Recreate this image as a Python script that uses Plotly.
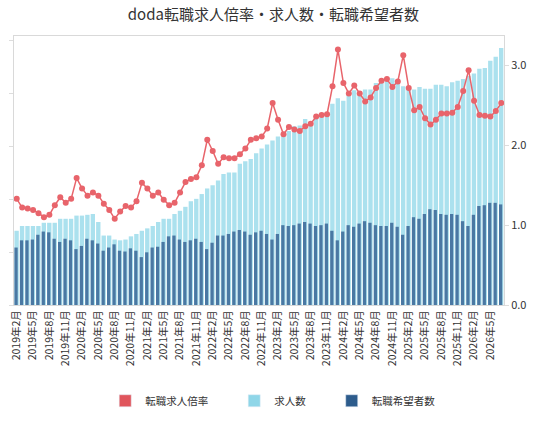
import plotly.graph_objects as go

# months 2019年2月 .. 2026年7月
months = []
y, m = 2019, 2
for _ in range(90):
    months.append(f"{y}年{m}月")
    m += 1
    if m > 12:
        y, m = y + 1, 1

# 転職求人倍率
ratio = [1.33, 1.22, 1.21, 1.19, 1.15, 1.10, 1.13, 1.25, 1.35, 1.28,
         1.33, 1.59, 1.46, 1.37, 1.41, 1.37, 1.27, 1.19, 1.08, 1.17,
         1.24, 1.22, 1.30, 1.53, 1.46, 1.37, 1.41, 1.32, 1.25, 1.28,
         1.41, 1.54, 1.58, 1.60, 1.75, 2.07, 1.93, 1.77, 1.85, 1.84,
         1.84, 1.89, 1.96, 2.07, 2.09, 2.11, 2.21, 2.53, 2.32, 2.14,
         2.23, 2.20, 2.18, 2.24, 2.27, 2.36, 2.38, 2.39, 2.74, 3.20,
         2.78, 2.65, 2.75, 2.65, 2.55, 2.60, 2.72, 2.81, 2.83, 2.73,
         2.80, 3.13, 2.72, 2.44, 2.48, 2.34, 2.26, 2.32, 2.40, 2.40,
         2.41, 2.48, 2.68, 2.94, 2.56, 2.38, 2.37, 2.36, 2.43, 2.53]

# 求人数 (scaled)
openings = [0.93, 0.99, 0.99, 0.99, 0.99, 1.03, 1.03, 1.03, 1.08, 1.08,
            1.08, 1.12, 1.12, 1.13, 1.14, 1.04, 0.87, 0.87, 0.82, 0.81,
            0.82, 0.86, 0.89, 0.93, 0.96, 0.99, 1.04, 1.08, 1.08, 1.14,
            1.18, 1.23, 1.30, 1.33, 1.39, 1.46, 1.50, 1.56, 1.64, 1.66,
            1.66, 1.77, 1.80, 1.83, 1.90, 1.96, 2.01, 2.06, 2.11, 2.15,
            2.18, 2.24, 2.25, 2.33, 2.30, 2.38, 2.39, 2.41, 2.52, 2.59,
            2.56, 2.65, 2.69, 2.66, 2.70, 2.70, 2.78, 2.79, 2.83, 2.84,
            2.79, 2.74, 2.73, 2.70, 2.73, 2.71, 2.71, 2.76, 2.76, 2.74,
            2.79, 2.81, 2.83, 2.87, 2.90, 2.96, 2.97, 3.06, 3.11, 3.22]

# 転職希望者数 (scaled)
seekers = [0.72, 0.81, 0.81, 0.82, 0.88, 0.92, 0.91, 0.83, 0.79, 0.83,
           0.81, 0.70, 0.74, 0.83, 0.81, 0.77, 0.68, 0.72, 0.76, 0.68,
           0.67, 0.71, 0.68, 0.60, 0.66, 0.72, 0.73, 0.79, 0.86, 0.87,
           0.82, 0.79, 0.81, 0.83, 0.79, 0.70, 0.78, 0.87, 0.87, 0.89,
           0.92, 0.94, 0.92, 0.88, 0.91, 0.93, 0.89, 0.82, 0.89, 1.00,
           0.99, 1.00, 1.02, 1.04, 1.02, 0.99, 1.00, 1.02, 0.93, 0.81,
           0.92, 1.00, 0.98, 1.02, 1.05, 1.03, 1.00, 0.99, 0.99, 1.03,
           0.98, 0.88, 0.99, 1.10, 1.08, 1.14, 1.20, 1.19, 1.14, 1.13,
           1.14, 1.13, 1.05, 0.99, 1.13, 1.24, 1.25, 1.28, 1.28, 1.26]

tick_labels = months[::3]

RED = "#e8646b"
LIGHT = "#abe1ee"
DARK = "#4a78a3"
FONT = "Noto Sans CJK JP"

fig = go.Figure()
fig.add_trace(go.Bar(x=months, y=openings, marker_color=LIGHT, width=0.8,
                     offset=-0.42, showlegend=False, marker_line_width=0))
fig.add_trace(go.Bar(x=months, y=seekers, marker_color=DARK, width=0.6,
                     offset=-0.42, showlegend=False, marker_line_width=0))
fig.add_trace(go.Scatter(x=months, y=ratio, yaxis="y2", mode="lines+markers",
                         line=dict(color=RED, width=1.5),
                         marker=dict(color=RED, size=6), showlegend=False))

# legend swatches
legend_items = [("転職求人倍率\u3000\u3000", "#e0555c"),
                ("求人数\u3000\u3000", "#8fd6e8"),
                ("転職希望者数", "#2d5c8c")]
for name, col in legend_items:
    fig.add_trace(go.Bar(x=[None], y=[None], name=name, marker_color=col))

rng = [0, 3.37]
fig.update_layout(
    width=536, height=423,
    margin=dict(l=8, r=32, t=36, b=112),
    paper_bgcolor="white", plot_bgcolor="white",
    font=dict(family=FONT, color="#333333", size=11),
    title=dict(text="doda転職求人倍率・求人数・転職希望者数", x=0.51, xanchor="center",
               y=0.965, yanchor="middle", font=dict(size=15, color="#333333")),
    barmode="overlay",
    bargap=0.2,
    xaxis=dict(type="category", tickmode="array", tickvals=tick_labels,
               ticktext=tick_labels, tickangle=-90, tickfont=dict(size=10.5),
               showline=True, linecolor="#d9d9d9", mirror=True, ticks="",
               showgrid=False, range=[-0.5, len(months) - 0.5]),
    yaxis=dict(range=rng, showticklabels=False, showgrid=False, zeroline=False,
               showline=True, linecolor="#d9d9d9", mirror=True,
               ticks="outside", ticklen=4, tickcolor="#dddddd", tick0=0, dtick=0.6626),
    yaxis2=dict(range=rng, overlaying="y", side="right", showgrid=False,
                zeroline=False, tickvals=[0, 1, 2, 3], tickformat=".1f",
                ticks="outside", ticklen=4, tickcolor="#dddddd",
                tickfont=dict(size=11)),
    legend=dict(orientation="h", x=0.528, xanchor="center", y=-0.356,
                yanchor="middle", font=dict(size=10.5), traceorder="normal",
                itemwidth=30),
)

fig.write_html("out.html", config={"displayModeBar": False},
               post_script="document.body.style.margin='0';")
